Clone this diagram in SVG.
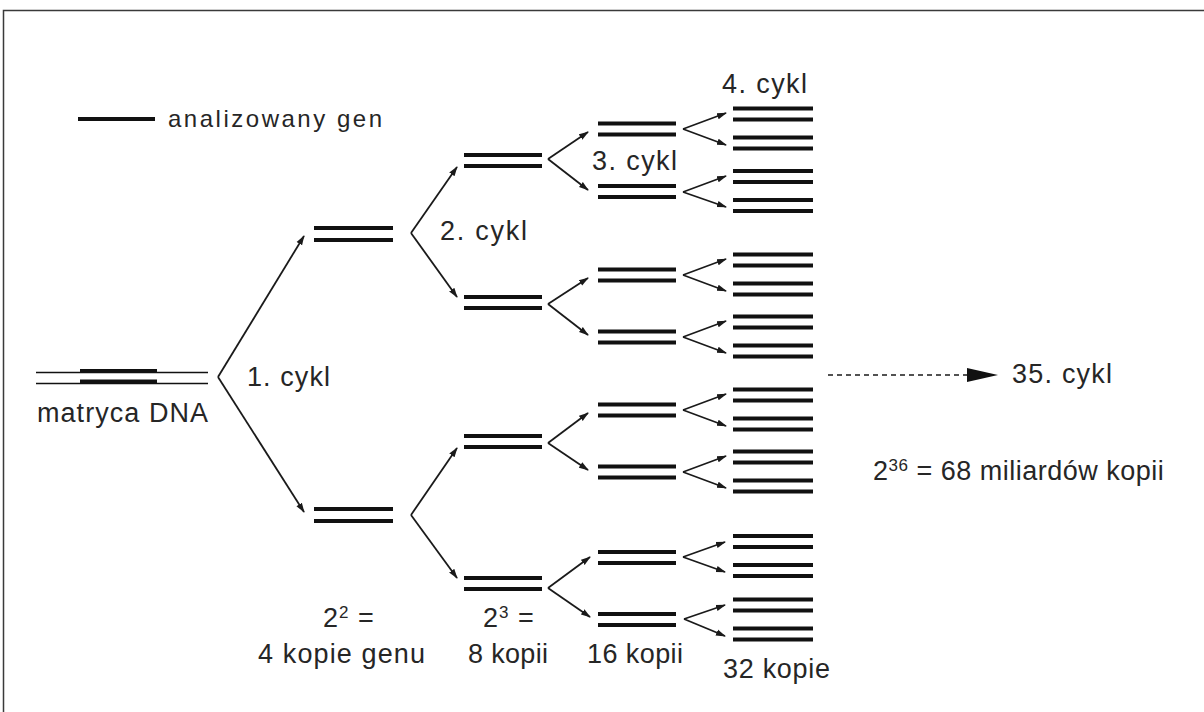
<svg xmlns="http://www.w3.org/2000/svg" width="1204" height="712" viewBox="0 0 1204 712">
<defs>
<marker id="ah" markerUnits="userSpaceOnUse" markerWidth="10" markerHeight="8" refX="9" refY="4" orient="auto">
<path d="M0,0.8 L10,4 L0,7.2 z" fill="#1a1a1a"/>
</marker>
</defs>
<style>
.t{font-family:"Liberation Sans",Arial,sans-serif;font-size:27px;fill:#262626}
.lg{font-size:24px}
.b{stroke:#111;stroke-width:4}
.thin{stroke:#111;stroke-width:1.6}
.c{stroke:#1a1a1a;stroke-width:1.8;fill:none;marker-end:url(#ah)}
.sup{font-size:17px}
</style>
<rect width="1204" height="712" fill="#fff"/>
<path d="M3.5,712 V10.5 H1204" fill="none" stroke="#3a3a3a" stroke-width="1.5"/>

<g id="legend">
<line class="b" x1="78" y1="119" x2="155" y2="119"/>
<text class="t lg" x="168" y="127" textLength="214" lengthAdjust="spacing">analizowany gen</text>
</g>

<g id="matrix">
<line class="thin" x1="36" y1="372.5" x2="208" y2="372.5"/>
<line class="thin" x1="36" y1="383.5" x2="208" y2="383.5"/>
<line class="b" x1="80" y1="371" x2="157" y2="371"/>
<line class="b" x1="80" y1="381.5" x2="157" y2="381.5"/>
<text class="t" x="37" y="422" textLength="171" lengthAdjust="spacing">matryca DNA</text>
</g>

<g id="cycle2">
<line class="b" x1="314" y1="228" x2="393" y2="228"/><line class="b" x1="314" y1="240" x2="393" y2="240"/>
<line class="b" x1="314" y1="509" x2="393" y2="509"/><line class="b" x1="314" y1="521" x2="393" y2="521"/>
</g>

<g id="cycle3">
<line class="b" x1="464" y1="155" x2="542" y2="155"/><line class="b" x1="464" y1="166" x2="542" y2="166"/>
<line class="b" x1="464" y1="297" x2="542" y2="297"/><line class="b" x1="464" y1="308" x2="542" y2="308"/>
<line class="b" x1="464" y1="436" x2="542" y2="436"/><line class="b" x1="464" y1="447" x2="542" y2="447"/>
<line class="b" x1="464" y1="578" x2="542" y2="578"/><line class="b" x1="464" y1="589" x2="542" y2="589"/>
</g>

<g id="cycle4">
<line class="b" x1="598" y1="123.5" x2="676" y2="123.5"/><line class="b" x1="598" y1="134.5" x2="676" y2="134.5"/>
<line class="b" x1="598" y1="186" x2="676" y2="186"/><line class="b" x1="598" y1="197" x2="676" y2="197"/>
<line class="b" x1="598" y1="269.5" x2="676" y2="269.5"/><line class="b" x1="598" y1="280.5" x2="676" y2="280.5"/>
<line class="b" x1="598" y1="331.5" x2="676" y2="331.5"/><line class="b" x1="598" y1="342.5" x2="676" y2="342.5"/>
<line class="b" x1="598" y1="404.5" x2="676" y2="404.5"/><line class="b" x1="598" y1="415.5" x2="676" y2="415.5"/>
<line class="b" x1="598" y1="466.5" x2="676" y2="466.5"/><line class="b" x1="598" y1="477.5" x2="676" y2="477.5"/>
<line class="b" x1="598" y1="552" x2="676" y2="552"/><line class="b" x1="598" y1="563" x2="676" y2="563"/>
<line class="b" x1="598" y1="614" x2="676" y2="614"/><line class="b" x1="598" y1="625" x2="676" y2="625"/>
</g>

<g id="cycle5">
<line class="b" x1="733" y1="108.5" x2="813" y2="108.5"/><line class="b" x1="733" y1="119.5" x2="813" y2="119.5"/><line class="b" x1="733" y1="137.5" x2="813" y2="137.5"/><line class="b" x1="733" y1="148.5" x2="813" y2="148.5"/>
<line class="b" x1="733" y1="171" x2="813" y2="171"/><line class="b" x1="733" y1="182" x2="813" y2="182"/><line class="b" x1="733" y1="200" x2="813" y2="200"/><line class="b" x1="733" y1="211" x2="813" y2="211"/>
<line class="b" x1="733" y1="254.5" x2="813" y2="254.5"/><line class="b" x1="733" y1="265.5" x2="813" y2="265.5"/><line class="b" x1="733" y1="283.5" x2="813" y2="283.5"/><line class="b" x1="733" y1="294.5" x2="813" y2="294.5"/>
<line class="b" x1="733" y1="316.5" x2="813" y2="316.5"/><line class="b" x1="733" y1="327.5" x2="813" y2="327.5"/><line class="b" x1="733" y1="345.5" x2="813" y2="345.5"/><line class="b" x1="733" y1="356.5" x2="813" y2="356.5"/>
<line class="b" x1="733" y1="389.5" x2="813" y2="389.5"/><line class="b" x1="733" y1="400.5" x2="813" y2="400.5"/><line class="b" x1="733" y1="418.5" x2="813" y2="418.5"/><line class="b" x1="733" y1="429.5" x2="813" y2="429.5"/>
<line class="b" x1="733" y1="451.5" x2="813" y2="451.5"/><line class="b" x1="733" y1="462.5" x2="813" y2="462.5"/><line class="b" x1="733" y1="480.5" x2="813" y2="480.5"/><line class="b" x1="733" y1="491.5" x2="813" y2="491.5"/>
<line class="b" x1="733" y1="536" x2="813" y2="536"/><line class="b" x1="733" y1="547" x2="813" y2="547"/><line class="b" x1="733" y1="565" x2="813" y2="565"/><line class="b" x1="733" y1="576" x2="813" y2="576"/>
<line class="b" x1="733" y1="599.5" x2="813" y2="599.5"/><line class="b" x1="733" y1="610.5" x2="813" y2="610.5"/><line class="b" x1="733" y1="628.5" x2="813" y2="628.5"/><line class="b" x1="733" y1="639.5" x2="813" y2="639.5"/>
</g>

<g id="connectors">
<line class="c" x1="218" y1="377" x2="304" y2="236"/>
<line class="c" x1="218" y1="377" x2="304" y2="512"/>
<line class="c" x1="411" y1="233" x2="457" y2="167"/>
<line class="c" x1="411" y1="233" x2="457" y2="297"/>
<line class="c" x1="411" y1="515" x2="457" y2="448"/>
<line class="c" x1="411" y1="515" x2="457" y2="578"/>
<line class="c" x1="548" y1="159" x2="588" y2="132"/>
<line class="c" x1="548" y1="159" x2="588" y2="190"/>
<line class="c" x1="548" y1="304" x2="588" y2="278"/>
<line class="c" x1="548" y1="304" x2="588" y2="335"/>
<line class="c" x1="548" y1="443" x2="588" y2="413"/>
<line class="c" x1="548" y1="443" x2="588" y2="470"/>
<line class="c" x1="548" y1="588" x2="590" y2="557"/>
<line class="c" x1="548" y1="588" x2="590" y2="617"/>
<line class="c" x1="683" y1="129" x2="726" y2="113"/>
<line class="c" x1="683" y1="129" x2="726" y2="145"/>
<line class="c" x1="683" y1="192" x2="726" y2="176"/>
<line class="c" x1="683" y1="192" x2="726" y2="207"/>
<line class="c" x1="683" y1="275" x2="726" y2="259"/>
<line class="c" x1="683" y1="275" x2="726" y2="291"/>
<line class="c" x1="683" y1="337" x2="726" y2="321"/>
<line class="c" x1="683" y1="337" x2="726" y2="353"/>
<line class="c" x1="683" y1="410" x2="726" y2="394"/>
<line class="c" x1="683" y1="410" x2="726" y2="426"/>
<line class="c" x1="683" y1="472" x2="726" y2="456"/>
<line class="c" x1="683" y1="472" x2="726" y2="488"/>
<line class="c" x1="683" y1="557" x2="725" y2="542"/>
<line class="c" x1="683" y1="557" x2="725" y2="572"/>
<line class="c" x1="684" y1="619" x2="725" y2="605"/>
<line class="c" x1="684" y1="619" x2="725" y2="636"/>
<line x1="828" y1="375" x2="968" y2="375" stroke="#1a1a1a" stroke-width="1.6" stroke-dasharray="5,4"/>
<polygon points="967,368 998,375 967,382" fill="#111"/>
</g>

<g id="labels">
<text class="t" x="247" y="386" textLength="83" lengthAdjust="spacing">1. cykl</text>
<text class="t" x="440" y="240" textLength="87" lengthAdjust="spacing">2. cykl</text>
<text class="t" x="592" y="170" textLength="85" lengthAdjust="spacing">3. cykl</text>
<text class="t" x="722" y="93" textLength="85" lengthAdjust="spacing">4. cykl</text>
<text class="t" x="1012" y="383" textLength="100" lengthAdjust="spacing">35. cykl</text>
<text class="t" x="873" y="480" letter-spacing="0.5">2<tspan class="sup" dy="-9">36</tspan><tspan dy="9"> = 68 miliardów kopii</tspan></text>
<text class="t" x="323" y="627" letter-spacing="1">2<tspan class="sup" dy="-9">2</tspan><tspan dy="9"> =</tspan></text>
<text class="t" x="258" y="663" textLength="167" lengthAdjust="spacing">4 kopie genu</text>
<text class="t" x="483" y="627" letter-spacing="1">2<tspan class="sup" dy="-9">3</tspan><tspan dy="9"> =</tspan></text>
<text class="t" x="468" y="663" textLength="80" lengthAdjust="spacing">8 kopii</text>
<text class="t" x="587" y="663" textLength="96" lengthAdjust="spacing">16 kopii</text>
<text class="t" x="723" y="678" textLength="107" lengthAdjust="spacing">32 kopie</text>
</g>
</svg>
